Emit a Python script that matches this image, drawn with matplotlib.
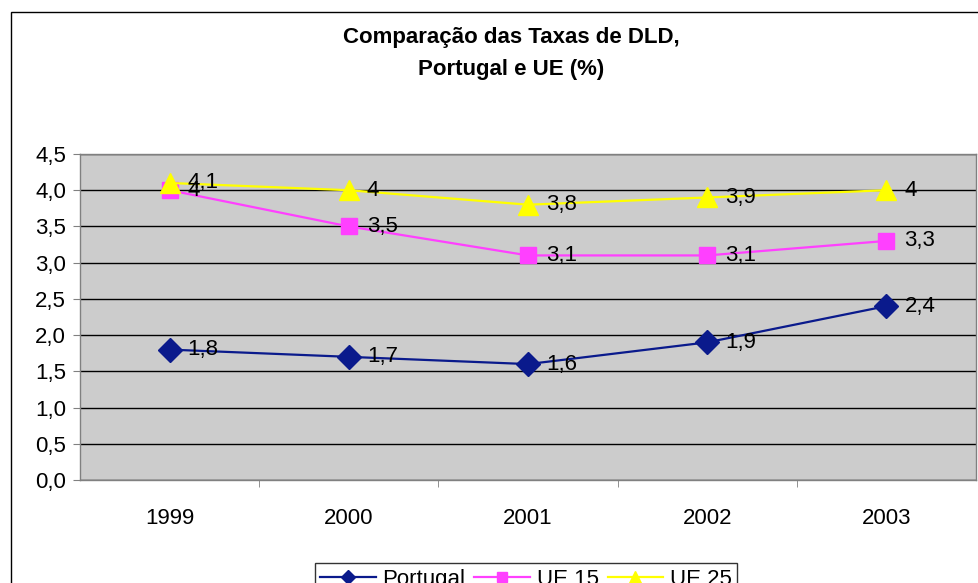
import matplotlib
matplotlib.use("Agg")
import matplotlib.pyplot as plt
from matplotlib.patches import Rectangle
from matplotlib.ticker import FixedLocator, FuncFormatter

plt.rcParams['font.family'] = ['Liberation Sans', 'DejaVu Sans']

years = ['1999', '2000', '2001', '2002', '2003']
portugal = [1.8, 1.7, 1.6, 1.9, 2.4]
ue15 = [4.0, 3.5, 3.1, 3.1, 3.3]
ue25 = [4.1, 4.0, 3.8, 3.9, 4.0]
yticks = [0.0, 0.5, 1.0, 1.5, 2.0, 2.5, 3.0, 3.5, 4.0, 4.5]

W, H = 979, 583
fig = plt.figure(figsize=(W / 100, H / 100), dpi=100)
# plot area in pixels: left 80, right 976, top 154, bottom 480
ax = fig.add_axes([80 / W, 1 - 480 / H, 896 / W, 326 / H])
ax.set_facecolor('#cccccc')

# outer chart-area frame (clipped by the figure on the right and bottom)
fig.patches.append(Rectangle((11 / W, -0.2), 1.2, 1 - 12 / H + 0.2,
                             transform=fig.transFigure, fill=False,
                             edgecolor='black', linewidth=1))

x = list(range(len(years)))
series = [
    ('Portugal', portugal, '#0a1a8c', 'D', 12),
    ('UE 15', ue15, '#ff40ff', 's', 12),
    ('UE 25', ue25, '#ffff00', '^', 15),
]
for name, vals, color, mk, ms in series:
    ax.plot(x, vals, color=color, linewidth=1.6, marker=mk, markersize=ms,
            markeredgecolor=color, label=name, zorder=3)
    for xi, v in zip(x, vals):
        txt = f'{v:g}'.replace('.', ',')
        ax.annotate(txt, (xi, v), xytext=(13, 0), textcoords='offset points',
                    ha='left', va='center', fontsize=16, color='black', zorder=4)

ax.set_xlim(-0.5, len(years) - 0.5)
ax.set_ylim(0, 4.5)
ax.set_yticks(yticks)
ax.yaxis.set_major_formatter(FuncFormatter(lambda v, p: f'{v:.1f}'.replace('.', ',')))
ax.yaxis.grid(True, color='black', linewidth=1)
ax.set_axisbelow(True)

ax.set_xticks(x)
ax.set_xticklabels(years)
ax.xaxis.set_minor_locator(FixedLocator([i + 0.5 for i in range(len(years) - 1)]))
ax.tick_params(axis='x', which='major', length=0, pad=20, labelsize=16)
ax.tick_params(axis='x', which='minor', length=5, color='#808080')
ax.tick_params(axis='y', length=5, color='#808080', labelsize=16, pad=5)

for s in ax.spines.values():
    s.set_color('#808080')
    s.set_linewidth(1)

fig.text(511 / W, 1 - 38 / H, 'Comparação das Taxas de DLD,', ha='center',
         va='center', fontsize=16, fontweight='bold')
fig.text(511 / W, 1 - 69 / H, 'Portugal e UE (%)', ha='center',
         va='center', fontsize=16, fontweight='bold')

leg = fig.legend(loc='upper center', bbox_to_anchor=(526 / W, 1 - 563 / H),
                 ncol=3, fontsize=16, frameon=True, fancybox=False,
                 edgecolor='black', borderpad=0.25, borderaxespad=0,
                 handlelength=2.5, columnspacing=0.4, handletextpad=0.3,
                 markerscale=0.6)
leg.get_frame().set_linewidth(1)

fig.savefig('out.png', dpi=100)
